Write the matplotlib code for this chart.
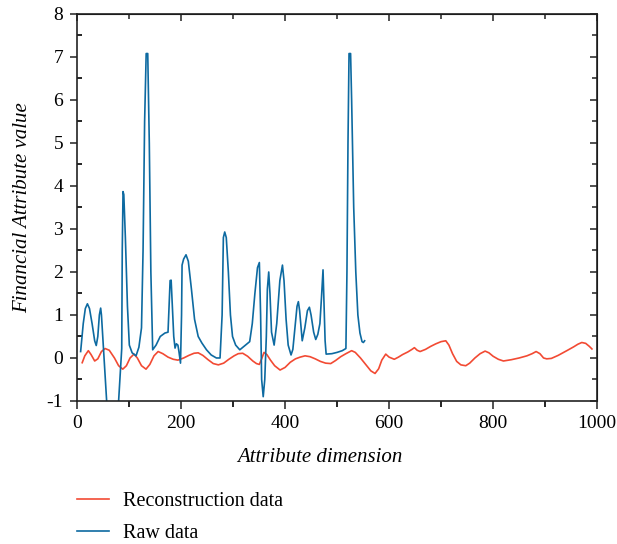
import matplotlib
matplotlib.use("Agg")
import matplotlib.pyplot as plt
from matplotlib.ticker import MultipleLocator

# values
raw_x = [7, 12, 16, 20, 24, 29, 34, 37, 40, 43, 45.5, 47, 52, 57, 62, 70, 76, 80, 84, 86,
         87, 88.5, 90, 93, 97, 100.6, 106, 113.5, 119, 124, 127, 130, 133, 136, 139, 142, 145.5,
         152, 160, 169, 175, 177, 179, 181, 183, 186, 188.5, 191, 194, 196, 199, 201, 202, 205,
         209.6, 214, 220, 226, 233, 240, 249, 258, 268, 275, 279, 281.4, 284, 287, 291, 295, 299,
         305, 313, 322, 332, 337, 342, 347, 350.6, 353, 355, 358, 361, 364, 366, 368.6, 371, 374,
         379, 384, 390, 395, 398, 402, 406, 411.5, 415, 419, 423, 425.6, 428, 433, 438, 443,
         446.8, 450, 455, 459, 463, 467, 470, 473, 475, 477, 479, 490, 500, 510, 517, 519, 521,
         523, 526, 528, 532, 536, 540, 544, 548, 550.6, 553]
raw_y = [0.15, 0.8, 1.15, 1.26, 1.15, 0.8, 0.4, 0.29, 0.5, 1.0, 1.16, 1.0, 0.0, -1.0, -1.6, -1.8,
         -1.6, -1.0, -0.2, 0.22, 2.5, 3.87, 3.8, 2.8, 1.2, 0.3, 0.12, 0.05, 0.25, 0.7, 2.5, 5.5,
         7.08, 7.08, 5.0, 2.0, 0.19, 0.3, 0.5, 0.58, 0.6, 1.2, 1.8, 1.81, 1.3, 0.5, 0.23, 0.33,
         0.3, 0.15, -0.12, 1.0, 2.16, 2.3, 2.4, 2.25, 1.6, 0.9, 0.5, 0.35, 0.19, 0.07, 0.0, 0.0,
         1.0, 2.8, 2.93, 2.8, 2.0, 1.0, 0.5, 0.3, 0.19, 0.28, 0.38, 0.8, 1.5, 2.1, 2.22, 1.0,
         -0.5, -0.9, -0.5, 0.5, 1.6, 2.0, 1.5, 0.6, 0.3, 0.8, 1.8, 2.16, 1.8, 0.9, 0.3, 0.07,
         0.2, 0.7, 1.2, 1.31, 1.1, 0.4, 0.7, 1.1, 1.18, 1.0, 0.6, 0.43, 0.55, 0.8, 1.4, 2.05,
         1.2, 0.4, 0.09, 0.1, 0.13, 0.17, 0.22, 2.0, 5.0, 7.08, 7.08, 6.0, 3.5, 2.0, 1.0, 0.58,
         0.38, 0.36, 0.4]

rec_x = [10, 15, 21.8, 27, 34, 40, 47, 54, 62, 72, 80, 88, 95, 102, 109.6, 116, 124, 132.7, 140,
         148, 156, 165, 175, 185, 194, 205, 215, 225, 233, 242, 252, 262, 271.8, 282, 292, 302,
         310, 318.6, 328, 338, 345, 350.6, 355, 359.6, 365, 372, 380, 390.4, 400, 410, 420, 429,
         438.5, 448, 458, 468, 478, 487.8, 497, 507, 517, 528, 535, 545, 555, 565, 573, 580, 586,
         593.6, 600, 610, 618, 626, 636, 644, 648.7, 654, 659.6, 670, 680, 690, 700, 709, 715,
         722, 730, 738, 747.4, 755, 765, 775, 784.6, 792, 800, 810, 819.8, 835, 850, 865, 875,
         882.7, 890, 897, 903, 912, 925, 941.7, 955, 963, 970.5, 978, 985, 990]
rec_y = [-0.11, 0.05, 0.17, 0.08, -0.07, -0.02, 0.15, 0.22, 0.18, 0.0, -0.18, -0.26, -0.18, 0.0,
         0.09, 0.0, -0.18, -0.26, -0.15, 0.05, 0.15, 0.1, 0.02, -0.03, -0.05, 0.0, 0.06, 0.11,
         0.12, 0.06, -0.04, -0.13, -0.16, -0.12, -0.03, 0.05, 0.1, 0.11, 0.04, -0.07, -0.13,
         -0.15, -0.02, 0.13, 0.08, -0.05, -0.18, -0.28, -0.22, -0.1, -0.02, 0.02, 0.05, 0.03,
         -0.02, -0.08, -0.12, -0.13, -0.06, 0.03, 0.1, 0.17, 0.13, 0.0, -0.15, -0.3, -0.36,
         -0.25, -0.05, 0.09, 0.02, -0.03, 0.02, 0.08, 0.14, 0.2, 0.24, 0.18, 0.15, 0.2, 0.27,
         0.33, 0.38, 0.4, 0.3, 0.1, -0.08, -0.16, -0.18, -0.12, 0.0, 0.1, 0.16, 0.12, 0.04,
         -0.03, -0.07, -0.04, 0.0, 0.05, 0.1, 0.15, 0.1, 0.0, -0.02, -0.01, 0.06, 0.17, 0.26,
         0.32, 0.36, 0.34, 0.27, 0.21]

plt.rcParams['font.family'] = ['Liberation Serif', 'DejaVu Serif']
plt.rcParams['axes.unicode_minus'] = False

fig = plt.figure(figsize=(6.17, 5.44), dpi=100)
ax = fig.add_axes([0.1248, 0.2629, 0.843, 0.7114])

red_line, = ax.plot(rec_x, rec_y, color='#f24a33', lw=1.2, label='Reconstruction data')
blue_line, = ax.plot(raw_x, raw_y, color='#0d6aa1', lw=1.2, label='Raw data')

ax.set_xlim(0, 1000)
ax.set_ylim(-1, 8)
ax.xaxis.set_major_locator(MultipleLocator(200))
ax.xaxis.set_minor_locator(MultipleLocator(100))
ax.yaxis.set_major_locator(MultipleLocator(1))
ax.yaxis.set_minor_locator(MultipleLocator(0.5))
ax.tick_params(labelsize=14, width=1.2, color='#333333')
ax.tick_params(axis='x', which='major', direction='out', length=6, pad=4)
ax.tick_params(axis='x', which='minor', direction='out', length=4, width=1.2)
ax.tick_params(axis='y', which='major', direction='out', length=5, pad=5)
ax.tick_params(axis='y', which='minor', direction='in', length=3.5, width=1.2)
for s in ax.spines.values():
    s.set_linewidth(1.2)
    s.set_color('#222222')

# inward ticks on the top and right frame
top = ax.secondary_xaxis('top')
top.xaxis.set_major_locator(MultipleLocator(200))
top.xaxis.set_minor_locator(MultipleLocator(100))
top.tick_params(which='both', direction='in', labeltop=False, width=1.2, color='#333333')
top.tick_params(which='major', length=5)
top.tick_params(which='minor', length=3.5)
right = ax.secondary_yaxis('right')
right.yaxis.set_major_locator(MultipleLocator(1))
right.yaxis.set_minor_locator(MultipleLocator(0.5))
right.tick_params(which='both', direction='in', labelright=False, width=1.2, color='#333333')
right.tick_params(which='major', length=5)
right.tick_params(which='minor', length=3.5)

ax.set_xlabel('Attribute dimension', fontsize=15, style='italic', va='center')
ax.xaxis.set_label_coords(0.467, -0.145)
ax.set_ylabel('Financial Attribute value', fontsize=15, style='italic', va='center')
ax.yaxis.set_label_coords(-0.105, 0.5)

fig.legend(handles=[red_line, blue_line], loc='upper left', bbox_to_anchor=(0.1248, 0.095),
           frameon=False, fontsize=14.5, handlelength=1.6, handletextpad=0.7,
           labelspacing=0.6, borderpad=0, borderaxespad=0)

fig.savefig('out.png', dpi=100)
